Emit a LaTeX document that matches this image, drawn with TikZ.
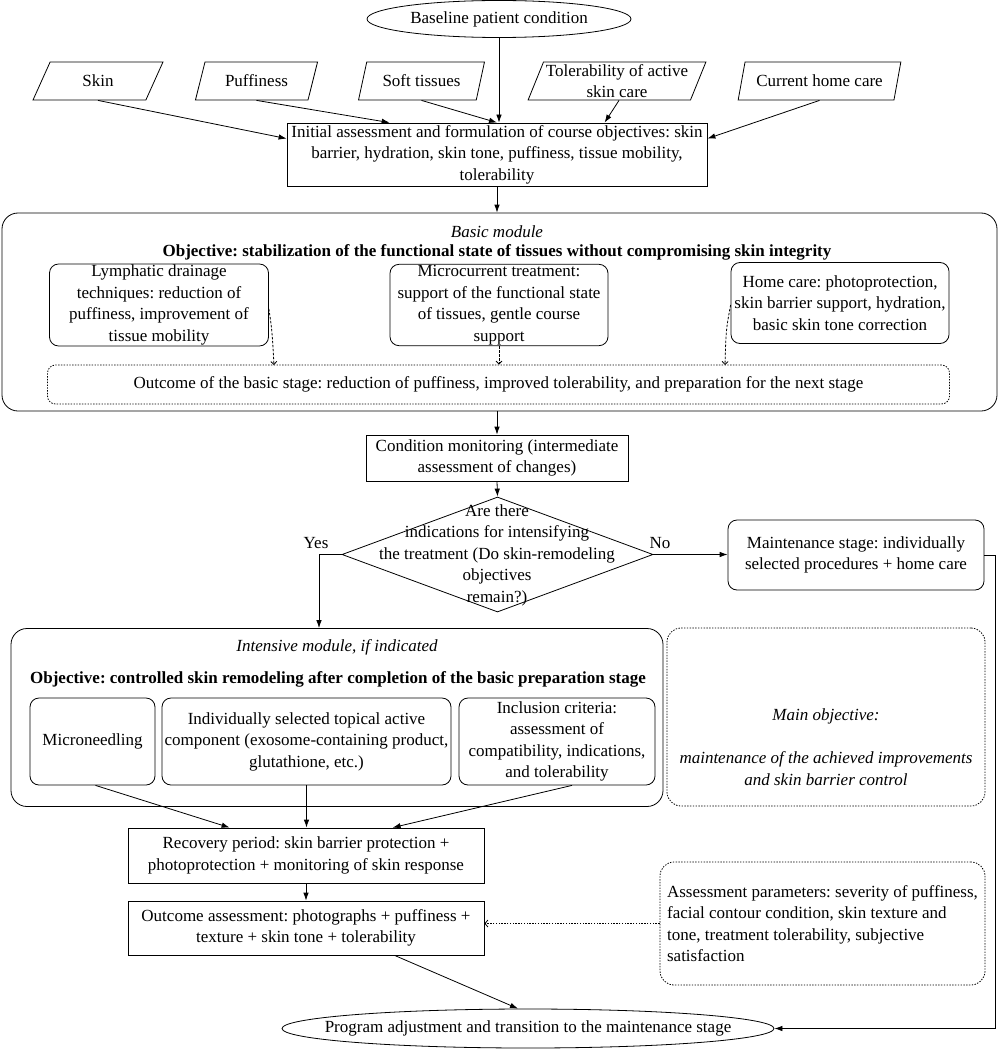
\documentclass[tikz,border=0pt]{standalone}
\usepackage{fontspec}
\setmainfont{Liberation Serif}
\usetikzlibrary{shapes.geometric,arrows.meta,calc}
\begin{document}
\frenchspacing
\begin{tikzpicture}[x=1pt,y=-1pt,
  every node/.style={font=\fontsize{17}{21.5}\selectfont, inner sep=1pt, align=center},
  lw/.style={line width=0.8pt},
  sqbox/.style={draw, lw, rectangle},
  rbox/.style={draw, lw, rectangle, rounded corners=9pt},
  dotbox/.style={draw, lw, rectangle, rounded corners=14pt, dash pattern=on 1.4pt off 1.4pt},
  para/.style={draw, lw, trapezium, trapezium left angle=67, trapezium right angle=113, trapezium stretches=true, minimum height=38pt},
  oval/.style={draw, lw, ellipse},
  arr/.style={lw, -{Latex[length=8pt,width=5.5pt]}},
  darr/.style={lw, dash pattern=on 2.5pt off 1.5pt, -{Straight Barb[length=3pt,width=6pt]}},
  dotarr/.style={lw, dash pattern=on 1.4pt off 1.4pt, -{Straight Barb[length=3pt,width=7pt]}},
  plain/.style={lw}
]
\useasboundingbox (0,0) rectangle (1002,1051);

% top
\node[oval, minimum width=264pt, minimum height=37pt] (base) at (499,19) {};
\node (basetext) at (base.center) {Baseline patient condition};
\node[para, minimum width=130pt] (skin) at (98,81) {Skin};
\node[para, minimum width=123pt] (puff) at (256.5,81) {Puffiness};
\node[para, minimum width=127pt] (soft) at (421.5,81) {Soft tissues};
\node[para, minimum width=178pt] (tol) at (617,81) {Tolerability of active\\skin care};
\node[para, minimum width=163pt] (home0) at (819.5,81) {Current home care};

\node[sqbox, minimum width=420pt, minimum height=63pt] (init) at (497,154.5)
  {Initial assessment and formulation of course objectives: skin\\barrier, hydration, skin tone, puffiness, tissue mobility,\\tolerability};

\draw[arr] (base.south) -- (base.south |- init.north);
\draw[arr] (skin.south) -- ($(init.north west)+(0,16)$);
\draw[arr] (puff.south) -- ($(init.north west)+(103,0)$);
\draw[arr] (soft.south) -- (init.north);
\draw[arr] ($(tol.south)+(2,0)$) -- ($(init.north west)+(318,0)$);
\draw[arr] (home0.south) -- ($(init.north east)+(0,16)$);

% basic module
\node[draw, lw, rectangle, rounded corners=16pt, minimum width=995pt, minimum height=198pt] (basic) at (499.5,312) {};
\node (basictitle) at (497,232) {\itshape Basic module};
\node (basicobj) at (497,252.5) {\bfseries Objective: stabilization of the functional state of tissues without compromising skin integrity};
\draw[arr] (init.south) -- (basic.north -| init.south);

\node[rbox, minimum width=219pt, minimum height=78pt] (lymph) at (159,305)
  {Lymphatic drainage\\techniques: reduction of\\puffiness, improvement of\\tissue mobility};
\node[rbox, minimum width=218pt, minimum height=78pt] (micro) at (499,305)
  {Microcurrent treatment:\\support of the functional state\\of tissues, gentle course\\support};
\node[rbox, minimum width=218pt, minimum height=81pt] (homec) at (840,303)
  {Home care: photoprotection,\\skin barrier support, hydration,\\basic skin tone correction};
\node[dotbox, rounded corners=8pt, minimum width=902pt, minimum height=39pt] (outb) at (498.5,384.5)
  {Outcome of the basic stage: reduction of puffiness, improved tolerability, and preparation for the next stage};

\coordinate (o1) at (274,365);
\coordinate (o3) at (725,365);
\draw[darr] ($(lymph.east)+(0,4)$) .. controls (272,330) .. (o1);
\draw[darr] (micro.south) -- (micro.south |- outb.north);
\draw[darr] ($(homec.west)+(0,2)$) .. controls (726,330) .. (o3);

% monitoring and decision
\node[sqbox, minimum width=262pt, minimum height=46pt] (mon) at (497,458)
  {Condition monitoring (intermediate\\assessment of changes)};
\draw[arr] (basic.south -| mon.north) -- (mon.north);

\node[draw, lw, diamond, minimum width=311pt, minimum height=115pt, inner sep=0pt] (dec) at (497.5,554.5) {};
\node (dectext) at (497,555) {Are there\\indications for intensifying\\the treatment (Do skin-remodeling\\objectives\\remain?)};
\draw[arr] (mon.south) -- (dec.north);

\node (yes) at (316,543) {Yes};
\node (no) at (660,543) {No};

\node[rbox, minimum width=256pt, minimum height=70pt] (maint) at (856,555)
  {Maintenance stage: individually\\selected procedures + home care};
\draw[arr] (dec.east) -- (dec.east -| maint.west);

% intensive module
\node[draw, lw, rectangle, rounded corners=16pt, minimum width=652pt, minimum height=178pt] (inten) at (337,717.5) {};
\node (intentitle) at (337,647) {\itshape Intensive module, if indicated};
\node (intenobj) at (338,679) {\bfseries Objective: controlled skin remodeling after completion of the basic preparation stage};
\coordinate (yc) at (319,554.5);
\draw[plain] (dec.west) -- (yc);
\draw[arr] (yc) -- (yc |- inten.north);

\node[rbox, minimum width=125pt, minimum height=87pt] (mneedle) at (92.5,741.5) {Microneedling};
\node[rbox, minimum width=289pt, minimum height=87pt] (topical) at (306.5,741.5)
  {Individually selected topical active\\component (exosome-containing product,\\glutathione, etc.)};
\node[rbox, minimum width=196pt, minimum height=87pt] (incl) at (557,741.5)
  {Inclusion criteria:\\assessment of\\compatibility, indications,\\and tolerability};

\node[dotbox, minimum width=318pt, minimum height=178pt] (mainobj) at (826,717) {};
\node (mainobjtext) at (826,747) {\itshape Main objective:\\[21.5pt]\itshape maintenance of the achieved improvements\\\itshape and skin barrier control};

% recovery and outcome
\node[sqbox, minimum width=356pt, minimum height=55pt] (recov) at (306,855.5)
  {Recovery period: skin barrier protection +\\photoprotection + monitoring of skin response};
\draw[arr] ($(mneedle.south)+(3,0)$) -- ($(recov.north west)+(102,0)$);
\draw[arr] (topical.south) -- (topical.south |- recov.north);
\draw[arr] ($(incl.south)+(15,0)$) -- ($(recov.north west)+(265,0)$);

\node[sqbox, minimum width=356pt, minimum height=54pt] (outa) at (306,928)
  {Outcome assessment: photographs + puffiness +\\texture + skin tone + tolerability};
\draw[arr] (recov.south) -- (outa.north);

\node[dotbox, minimum width=325pt, minimum height=123pt, align=left] (params) at (822.5,923.5)
  {Assessment parameters: severity of puffiness,\\facial contour condition, skin texture and\\tone, treatment tolerability, subjective\\satisfaction};
\draw[dotarr] (params.west) -- (params.west -| outa.east);

\node[oval, minimum width=492pt, minimum height=39pt] (final) at (528,1028.5) {};
\node (finaltext) at (final.center) {Program adjustment and transition to the maintenance stage};
\draw[arr] ($(outa.south west)+(267,0)$) -- ($(final.north)+(-10,0)$);

\coordinate (r1) at (995,555);
\draw[plain] (maint.east) -- (r1);
\draw[arr] (r1) |- (final.east);
\end{tikzpicture}
\end{document}
